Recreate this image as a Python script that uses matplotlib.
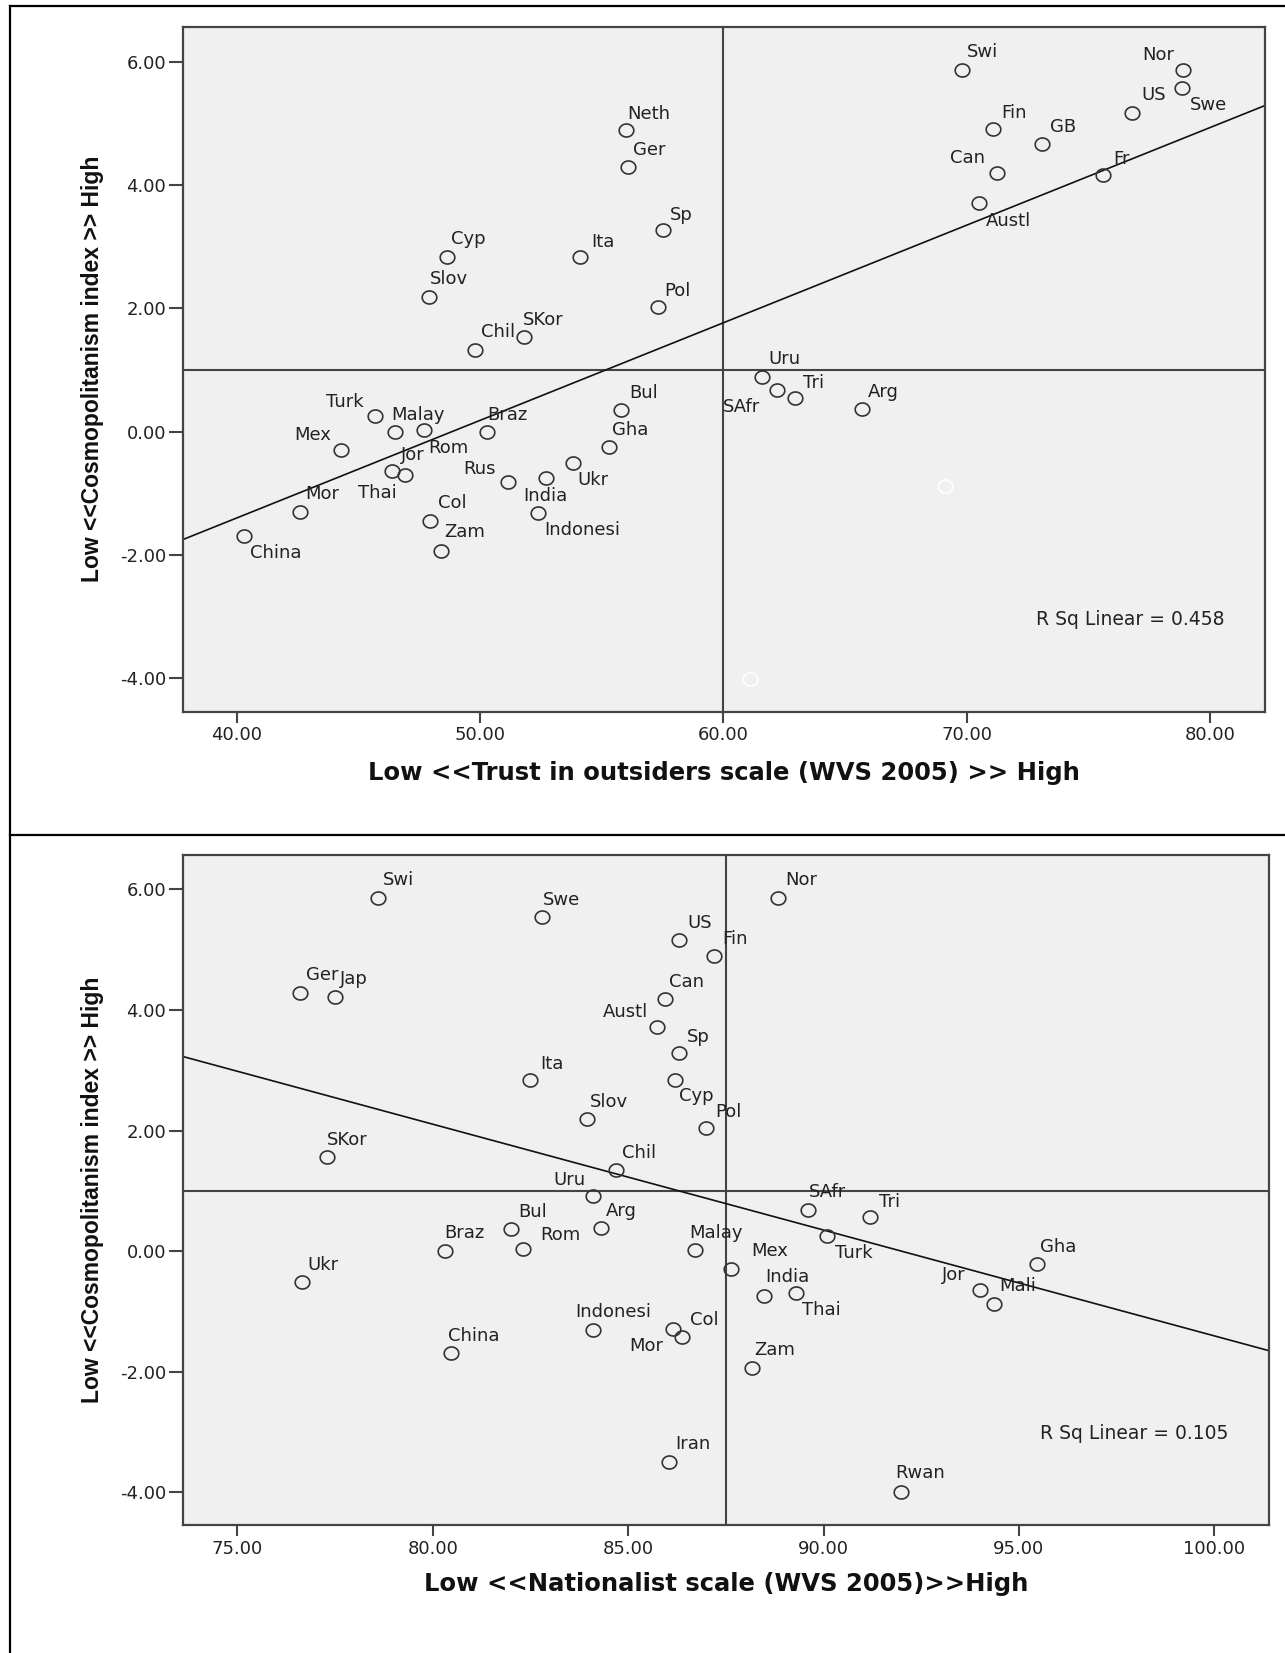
import numpy as np
import matplotlib
matplotlib.use("Agg")
import matplotlib.pyplot as plt
from matplotlib.path import Path
from matplotlib.lines import Line2D

# ---- top panel: trust in outsiders vs cosmopolitanism ----
trust_names = ["Neth", "Ger", "Sp", "Cyp", "Ita", "Slov", "Pol", "SKor", "Chil",
               "Turk", "Malay", "Rom", "Braz", "Mex", "Jor", "Thai", "Rus", "India",
               "Ukr", "Gha", "Bul", "Mor", "Col", "Indonesi", "China", "Zam",
               "Swi", "Nor", "US", "Swe", "Fin", "GB", "Can", "Fr", "Austl",
               "Uru", "SAfr", "Tri", "Arg"]
trust_x = [56.0, 56.1, 57.5, 48.65, 54.1, 47.9, 57.3, 51.8, 49.8,
           45.7, 46.5, 47.7, 50.3, 44.3, 46.4, 46.9, 51.15, 52.7,
           53.8, 55.3, 55.8, 42.6, 47.95, 52.4, 40.3, 48.4,
           69.8, 78.9, 76.8, 78.85, 71.1, 73.1, 71.25, 75.6, 70.5,
           61.6, 62.2, 62.96, 65.7]
trust_y = [4.90, 4.29, 3.28, 2.84, 2.84, 2.18, 2.03, 1.54, 1.33,
           0.25, 0.00, 0.03, 0.00, -0.30, -0.64, -0.70, -0.81, -0.75,
           -0.51, -0.24, 0.36, -1.30, -1.44, -1.31, -1.69, -1.94,
           5.86, 5.86, 5.17, 5.57, 4.91, 4.67, 4.19, 4.17, 3.71,
           0.89, 0.67, 0.54, 0.375]
# two cases drawn in white (no label) in the source chart
trust_hidden_x = [69.1, 61.1]
trust_hidden_y = [-0.88, -4.01]
trust_slope, trust_intercept = 0.1583, -7.73
trust_rsq = 0.458
trust_xref, trust_yref = 60.0, 1.0

# ---- bottom panel: nationalism vs cosmopolitanism ----
nat_names = ["Swi", "Swe", "US", "Nor", "Fin", "Ger", "Jap", "Can", "Austl", "Sp",
             "Ita", "Cyp", "Slov", "Pol", "SKor", "Chil", "Uru", "Bul", "Arg", "Braz",
             "Rom", "SAfr", "Tri", "Turk", "Malay", "Gha", "Mex", "India", "Thai", "Jor",
             "Mali", "Ukr", "Indonesi", "Mor", "Col", "China", "Zam", "Iran", "Rwan"]
nat_x = [78.6, 82.8, 86.3, 88.84, 87.2, 76.6, 77.5, 85.95, 85.75, 86.3,
         82.5, 86.2, 83.95, 87.0, 77.3, 84.7, 84.1, 82.0, 84.3, 80.3,
         82.3, 89.6, 91.2, 90.1, 86.7, 95.45, 87.63, 88.47, 89.3, 94.0,
         94.37, 76.66, 84.09, 86.16, 86.38, 80.46, 88.16, 86.05, 91.97]
nat_y = [5.85, 5.55, 5.16, 5.85, 4.89, 4.28, 4.21, 4.19, 3.71, 3.29,
         2.84, 2.84, 2.20, 2.05, 1.56, 1.35, 0.92, 0.37, 0.39, 0.00,
         0.03, 0.69, 0.57, 0.26, 0.02, -0.22, -0.29, -0.74, -0.69, -0.645,
         -0.87, -0.51, -1.30, -1.29, -1.42, -1.68, -1.93, -3.50, -3.99]
nat_slope, nat_intercept = -0.1755, 16.146
nat_rsq = 0.105
nat_xref, nat_yref = 87.5, 1.0

# label offsets (pixels) from marker centre to label baseline-left
top_offsets = {
    "Neth": (1, 11), "Ger": (5, 12), "Sp": (7, 10), "Cyp": (4, 13), "Ita": (11, 10),
    "Slov": (1, 13), "Pol": (7, 11), "SKor": (-1, 12), "Chil": (6, 13), "Turk": (-49, 9),
    "Malay": (-4, 12), "Rom": (4, -23), "Braz": (0, 12), "Mex": (-47, 10), "Jor": (8, 11),
    "Thai": (-47, -23), "Rus": (-45, 8), "India": (-22, -23), "Ukr": (5, -22), "Gha": (3, 12),
    "Bul": (8, 12), "Mor": (5, 13), "Col": (7.5, 13), "Indonesi": (6, -22), "China": (6, -22),
    "Zam": (3, 14), "Swi": (5, 13), "Nor": (-41, 10), "US": (9, 13), "Swe": (7.5, -22),
    "Fin": (8, 11), "GB": (8, 12), "Can": (-47, 10), "Fr": (10, 11), "Austl": (7, -23),
    "Uru": (6, 13), "SAfr": (-54, -22), "Tri": (8, 10), "Arg": (6, 12),
}
bottom_offsets = {
    "Swi": (5, 13), "Swe": (1, 12), "US": (8, 12), "Nor": (7, 13), "Fin": (8, 12),
    "Ger": (6, 13), "Jap": (5, 13), "Can": (4, 12), "Austl": (-55, 10), "Sp": (7.5, 11),
    "Ita": (10, 11), "Cyp": (4, -21), "Pol": (9, 11), "Slov": (3, 12), "SKor": (0, 12),
    "Chil": (6, 12), "Uru": (-40, 11), "Bul": (7.5, 12), "Arg": (5, 12), "Braz": (0, 13),
    "Rom": (18, 9), "SAfr": (1, 13), "Tri": (9, 10), "Turk": (8, -22), "Malay": (-5, 12),
    "Gha": (3, 12), "Mex": (20, 13), "India": (1, 14), "Thai": (6, -22), "Jor": (-38, 10),
    "Mali": (5, 13), "Col": (7.5, 12), "Mor": (-44, -22), "Zam": (3, 13), "Iran": (6, 13),
    "Rwan": (-5, 14), "Ukr": (5, 12), "Indonesi": (-17, 13), "China": (-3, 12),
}

W, H = 1285, 1653
fig = plt.figure(figsize=(W / 100, H / 100), dpi=100)

# slightly wide ring, like the stretched SPSS markers
t = np.linspace(0, 2 * np.pi, 60)
ring = Path(np.column_stack([1.12 * np.cos(t), np.sin(t)]), closed=True)

TXT = "#222222"
LINE = "#444444"


def panel(rect, names, xs, ys, offsets, xlim, xticks, xlabel, slope, intercept,
          rsq, xref, yref, rsq_pos, xlabel_y):
    ax = fig.add_axes(rect)
    ax.set_facecolor("#f0f0f0")
    ax.set_xlim(*xlim)
    ax.set_ylim(-4.54, 6.57)
    for s in ["top", "right", "bottom", "left"]:
        ax.spines[s].set_color(LINE)
        ax.spines[s].set_linewidth(1.6)

    ax.axvline(xref, color=LINE, lw=1.5, zorder=1)
    ax.axhline(yref, color=LINE, lw=1.5, zorder=1)
    xx = np.array(xlim)
    ax.plot(xx, intercept + slope * xx, color="#111111", lw=1.2, zorder=2)

    ax.plot(xs, ys, ls="none", marker=ring, ms=10.5, mfc="none", mec="#333333",
            mew=1.2, zorder=3)
    for n, x, y in zip(names, xs, ys):
        dx, dy = offsets[n]
        ax.annotate(n, (x, y), xytext=(dx, dy), textcoords="offset pixels",
                    ha="left", va="baseline", fontsize=13, color=TXT,
                    family="DejaVu Sans", zorder=4)

    ax.set_xticks(xticks)
    ax.set_yticks([-4, -2, 0, 2, 4, 6])
    ax.xaxis.set_major_formatter(lambda v, p: f"{v:.2f}")
    ax.yaxis.set_major_formatter(lambda v, p: f"{v:.2f}")
    ax.tick_params(axis="x", length=8, width=1.5, pad=2.5, color=LINE,
                   labelsize=13, labelcolor=TXT)
    ax.tick_params(axis="y", length=10, width=1.5, pad=2, color=LINE,
                   labelsize=13, labelcolor=TXT)

    ax.text(rsq_pos[0], rsq_pos[1], f"R Sq Linear = {rsq:.3f}", transform=ax.transAxes,
            ha="left", va="baseline", fontsize=13.5, color=TXT)

    ax.set_xlabel(xlabel, fontsize=17.5, fontweight="bold", family="DejaVu Sans",
                  color="#111111")
    ax.xaxis.label.set_va("center")
    ax.xaxis.set_label_coords(0.5, xlabel_y)
    ax.set_ylabel("Low <<Cosmopolitanism index >> High", fontsize=16.5,
                  fontweight="bold", family="Liberation Sans", color="#111111")
    ax.yaxis.label.set_va("center")
    ax.yaxis.set_label_coords(-0.083, 0.5)
    return ax


ax1 = panel([182.7 / W, 1 - 711.7 / H, (1265 - 182.7) / W, 685 / H],
            trust_names, trust_x, trust_y, top_offsets, (37.78, 82.26),
            [40, 50, 60, 70, 80], "Low <<Trust in outsiders scale (WVS 2005) >> High",
            trust_slope, trust_intercept, trust_rsq, trust_xref, trust_yref,
            (0.788, 0.127), -0.0895)
ax1.plot(trust_hidden_x, trust_hidden_y, ls="none", marker=ring, ms=10.5, mfc="none",
         mec="white", mew=1.2, zorder=3)

ax2 = panel([182.7 / W, 1 - 1525 / H, (1269 - 182.7) / W, 670 / H],
            nat_names, nat_x, nat_y, bottom_offsets, (73.6, 101.4),
            [75, 80, 85, 90, 95, 100], "Low <<Nationalist scale (WVS 2005)>>High",
            nat_slope, nat_intercept, nat_rsq, nat_xref, nat_yref,
            (0.789, 0.128), -0.088)

# table frame around the two charts
for (x0, y0), (x1, y1) in [((10, 6), (10, H)), ((10, 6), (W, 6)), ((10, 835), (W, 835))]:
    fig.add_artist(Line2D([x0 / W, x1 / W], [1 - y0 / H, 1 - y1 / H],
                          transform=fig.transFigure, color="black", lw=1.6))

fig.savefig("out.png", dpi=100)
